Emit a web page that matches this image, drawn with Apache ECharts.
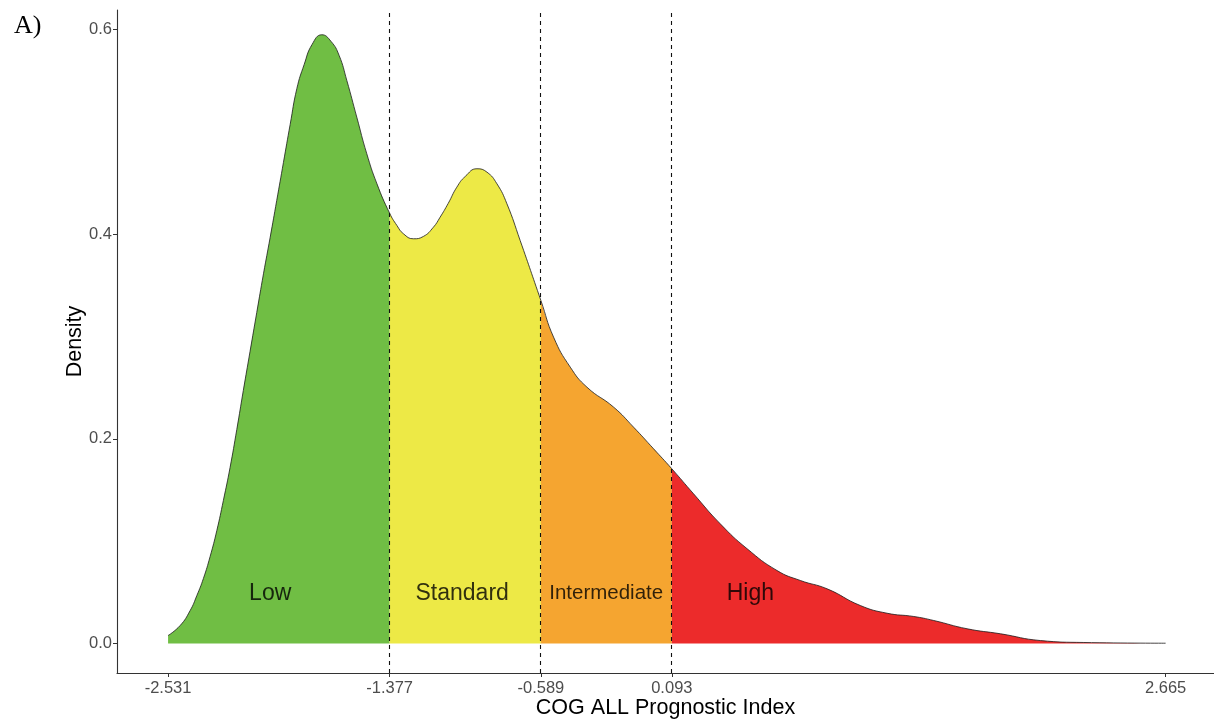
<!DOCTYPE html>
<html>
<head>
<meta charset="utf-8">
<script src="https://cdn.jsdelivr.net/npm/echarts@6/dist/echarts.min.js"></script>
<style>
html,body{margin:0;padding:0;background:#fff;overflow:hidden;}
#chart{width:1214px;height:723px;}
</style>
</head>
<body>
<div id="chart"></div>
<script>
// Density curve (x = prognostic index, y = density)
const curveX = [-2.531,-2.468,-2.416,-2.381,-2.347,-2.312,-2.277,-2.243,-2.208,-2.173,-2.139,-2.104,-2.069,-2.034,-1.999,-1.965,-1.930,-1.895,-1.860,-1.822,-1.781,-1.730,-1.682,-1.640,-1.600,-1.548,-1.496,-1.443,-1.377,-1.339,-1.305,-1.253,-1.201,-1.149,-1.114,-1.072,-1.027,-0.983,-0.922,-0.870,-0.818,-0.766,-0.697,-0.589,-0.523,-0.436,-0.349,-0.210,-0.106,-0.002,0.093,0.206,0.345,0.485,0.641,0.762,0.902,1.075,1.214,1.353,1.457,1.631,1.805,2.013,2.239,2.665];
const curveY = [0.0078,0.0176,0.0322,0.0469,0.0635,0.0850,0.1104,0.1397,0.1720,0.2091,0.2472,0.2853,0.3234,0.3612,0.3970,0.4328,0.4700,0.5071,0.5423,0.5657,0.5852,0.5947,0.5882,0.5745,0.5501,0.5142,0.4785,0.4491,0.4204,0.4084,0.4003,0.3954,0.3977,0.4067,0.4165,0.4299,0.4458,0.4563,0.4638,0.4605,0.4491,0.4296,0.3937,0.3351,0.2993,0.2700,0.2504,0.2309,0.2113,0.1902,0.1707,0.1463,0.1170,0.0926,0.0713,0.0616,0.0534,0.0371,0.0296,0.0264,0.0225,0.0144,0.0095,0.0029,0.0010,0.0003];

const cutoffs = [-1.377, -0.589, 0.093];
const xTicks = [-2.531, -1.377, -0.589, 0.093, 2.665];
const yTicks = [0, 0.2, 0.4, 0.6];

const regionNames = ['Low', 'Standard', 'Intermediate', 'High'];
const regionColors = ['#70BE44', '#EDE946', '#F5A530', '#EC2B2B'];
const labelX = [-1.999, -0.999, -0.249, 0.502];
const labelY = [0.049, 0.049, 0.049, 0.049];
const labelSizes = [23, 23, 20.5, 23];

const bounds = [curveX[0]].concat(cutoffs).concat([curveX[curveX.length - 1]]);
const full = curveX.map((x, i) => [x, curveY[i]]);
const SMOOTH = 0.5;

const series = [];
for (let s = 0; s < 4; s++) {
  const lo = bounds[s], hi = bounds[s + 1];
  series.push({
    type: 'line',
    data: full.filter(p => p[0] >= lo - 1e-9 && p[0] <= hi + 1e-9),
    smooth: SMOOTH,
    showSymbol: false,
    symbol: 'none',
    lineStyle: { width: 0, opacity: 0 },
    areaStyle: { color: regionColors[s], opacity: 1 },
    z: 2,
    silent: true
  });
}
series.push({
  type: 'line',
  data: full,
  smooth: SMOOTH,
  symbol: 'none',
  showSymbol: false,
  lineStyle: { color: '#1a1a1a', width: 0.8 },
  z: 4,
  silent: true,
  markLine: {
    silent: true,
    symbol: ['none', 'none'],
    label: { show: false },
    lineStyle: { color: '#111', width: 1.1, type: [4, 4] },
    data: cutoffs.map(c => ({ xAxis: c })),
    z: 5
  }
});
series.push({
  type: 'scatter',
  symbolSize: 0,
  z: 6,
  silent: true,
  data: regionNames.map((n, i) => ({
    value: [labelX[i], labelY[i]],
    name: n,
    label: { fontSize: labelSizes[i] }
  })),
  label: {
    show: true,
    position: 'inside',
    formatter: p => p.name,
    color: '#000',
    fontFamily: 'Liberation Sans',
    fontSize: 23
  }
});

const chart = echarts.init(document.getElementById('chart'), null, { renderer: 'canvas' });
chart.setOption({
  animation: false,
  backgroundColor: '#fff',
  title: {
    text: 'A)',
    left: 9,
    top: 8,
    textStyle: { fontFamily: 'Liberation Serif', fontSize: 26, fontWeight: 'normal', color: '#000' }
  },
  grid: { left: 117, right: 0, top: 10, bottom: 50, containLabel: false, outerBoundsMode: 'none' },
  xAxis: {
    type: 'value',
    min: -2.797,
    max: 2.917,
    name: 'COG ALL Prognostic Index',
    nameLocation: 'middle',
    nameGap: 24,
    nameMoveOverlap: false,
    nameTextStyle: { fontFamily: 'Liberation Sans', fontSize: 21.5, color: '#000' },
    axisLine: { onZero: false, lineStyle: { color: '#333', width: 1.1 } },
    axisTick: { show: true, length: 4, customValues: xTicks, lineStyle: { color: '#333' } },
    axisLabel: {
      customValues: xTicks,
      formatter: v => v.toFixed(3),
      fontFamily: 'Liberation Sans',
      fontSize: 16.5,
      color: '#4d4d4d',
      margin: 7
    },
    splitLine: { show: false }
  },
  yAxis: {
    type: 'value',
    min: -0.0288,
    max: 0.6189,
    name: 'Density',
    nameLocation: 'middle',
    nameGap: 31,
    nameMoveOverlap: false,
    nameRotate: 90,
    nameTextStyle: { fontFamily: 'Liberation Sans', fontSize: 21.5, color: '#000' },
    axisLine: { show: true, onZero: false, lineStyle: { color: '#333', width: 1.1 } },
    axisTick: { show: true, length: 4, customValues: yTicks, lineStyle: { color: '#333' } },
    axisLabel: {
      customValues: yTicks,
      formatter: v => v.toFixed(1),
      fontFamily: 'Liberation Sans',
      fontSize: 16.5,
      color: '#4d4d4d',
      margin: 5
    },
    splitLine: { show: false }
  },
  series: series
});
</script>
</body>
</html>
